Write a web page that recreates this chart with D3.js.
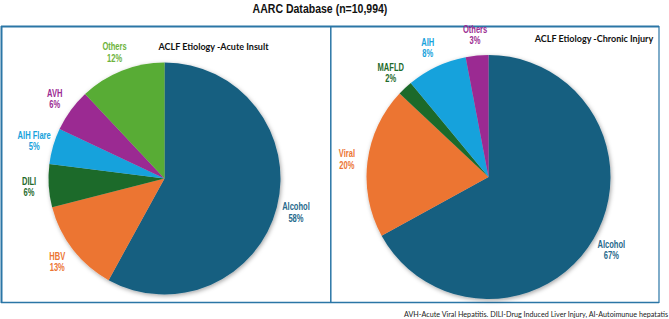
<!DOCTYPE html>
<html>
<head>
<meta charset="utf-8">
<script src="https://cdn.jsdelivr.net/npm/d3@7"></script>
<style>
  body { margin: 0; background: #fff; }
  svg { display: block; }
</style>
</head>
<body>
<svg id="chart" width="669" height="319"></svg>
<script>
// acute insult pie
let acuteLabels = ["Alcohol", "HBV", "DILI", "AIH Flare", "AVH", "Others"];
let acuteValues = [58, 13, 6, 5, 6, 12];
let acuteColors = ["#195f80", "#ec7533", "#1f6b2c", "#17a2dc", "#9b2b92", "#58ac34"];
let acuteTextColors = ["#276a8c", "#ec7533", "#1f6b2c", "#17a2dc", "#9b2b92", "#6cb33c"];

// chronic injury pie
let chronicLabels = ["Alcohol", "Viral", "MAFLD", "AIH", "Others"];
let chronicValues = [67, 20, 2, 8, 3];
let chronicColors = ["#195f80", "#ec7533", "#1f6b2c", "#17a2dc", "#9b2b92"];
let chronicTextColors = ["#276a8c", "#ec7533", "#1f6b2c", "#17a2dc", "#9b2b92"];

let mainTitle = "AARC Database (n=10,994)";
let footnote = "AVH-Acute Viral Hepatitis. DILI-Drug Induced Liver Injury, AI-Autoimunue hepatatis";

let SVG = d3.select("#chart");
let frameColor = "#2b76a6";
// narrow bold look, squeezed horizontally
let labelFont = "'Liberation Sans', Arial, sans-serif";

// soft shadow behind the pies
let shadow = SVG.append("defs").append("filter")
    .attr("id", "shadow")
    .attr("x", "-20%").attr("y", "-20%")
    .attr("width", "140%").attr("height", "140%");
shadow.append("feDropShadow")
    .attr("dx", 1).attr("dy", 1.5)
    .attr("stdDeviation", 2)
    .attr("flood-color", "#000")
    .attr("flood-opacity", 0.35);

// frames
SVG.append("line")
    .attr("x1", 1).attr("y1", 26.5).attr("x2", 659).attr("y2", 26.5)
    .style("stroke", frameColor).style("stroke-width", 2);
SVG.append("line")
    .attr("x1", 1.5).attr("y1", 26).attr("x2", 1.5).attr("y2", 303)
    .style("stroke", frameColor).style("stroke-width", 2);
SVG.append("line")
    .attr("x1", 1).attr("y1", 302.5).attr("x2", 659).attr("y2", 302.5)
    .style("stroke", frameColor).style("stroke-width", 1.5);
SVG.append("line")
    .attr("x1", 330.8).attr("y1", 26).attr("x2", 330.8).attr("y2", 303)
    .style("stroke", frameColor).style("stroke-width", 1.5);
SVG.append("line")
    .attr("x1", 659).attr("y1", 26).attr("x2", 659).attr("y2", 303)
    .style("stroke", frameColor).style("stroke-width", 1.2);

SVG.append("text")
    .attr("transform", "translate(320,12.5) scale(0.78,1)")
    .attr("text-anchor", "middle")
    .style("font-family", labelFont)
    .style("font-weight", "bold")
    .style("font-size", "13.5px")
    .style("fill", "#111")
    .text(mainTitle);

SVG.append("text")
    .attr("x", 668).attr("y", 317)
    .attr("text-anchor", "end")
    .style("font-family", "Lato, 'Open Sans', sans-serif")
    .style("font-size", "7.2px")
    .style("fill", "#222")
    .text(footnote);

function drawPie(cfg) {
    let pie = d3.pie().sort(null).value(d => d.value);
    let arcs = pie(cfg.labels.map((l, i) => ({label: l, value: cfg.values[i], i: i})));

    let arc = d3.arc().innerRadius(0).outerRadius(cfg.r);
    let labelArc = d3.arc().innerRadius(cfg.r * cfg.labelK).outerRadius(cfg.r * cfg.labelK);

    let g = SVG.append("g")
        .attr("transform", "translate(" + cfg.cx + "," + cfg.cy + ")");

    g.append("g")
        .style("filter", "url(#shadow)")
        .selectAll("path")
        .data(arcs)
        .enter()
        .append("path")
        .attr("d", arc)
        .style("fill", d => cfg.colors[d.data.i]);

    let labels = g.selectAll("text.lbl")
        .data(arcs)
        .enter()
        .append("text")
        .attr("class", "lbl")
        .attr("transform", d => "translate(" + labelArc.centroid(d) + ") scale(0.72,1)")
        .attr("text-anchor", "middle")
        .style("font-family", labelFont)
        .style("font-weight", "bold")
        .style("font-size", "10.5px")
        .style("fill", d => cfg.textColors[d.data.i]);
    labels.append("tspan")
        .attr("x", 0).attr("dy", "-0.2em")
        .text(d => d.data.label);
    labels.append("tspan")
        .attr("x", 0).attr("dy", "1.1em")
        .text(d => d.data.value + "%");

    SVG.append("text")
        .attr("x", cfg.titleX).attr("y", cfg.titleY)
        .attr("text-anchor", "middle")
        .style("font-family", "Lato, 'Open Sans', sans-serif")
        .style("font-weight", "bold")
        .style("font-size", "9px")
        .style("fill", "#111")
        .text(cfg.title);
}

drawPie({
    labels: acuteLabels, values: acuteValues,
    colors: acuteColors, textColors: acuteTextColors,
    cx: 164.5, cy: 178.5, r: 116, labelK: 1.17,
    title: "ACLF Etiology -Acute Insult", titleX: 213.5, titleY: 50
});

drawPie({
    labels: chronicLabels, values: chronicValues,
    colors: chronicColors, textColors: chronicTextColors,
    cx: 488.5, cy: 177, r: 122, labelK: 1.17,
    title: "ACLF Etiology -Chronic Injury", titleX: 594, titleY: 42
});
</script>
</body>
</html>
